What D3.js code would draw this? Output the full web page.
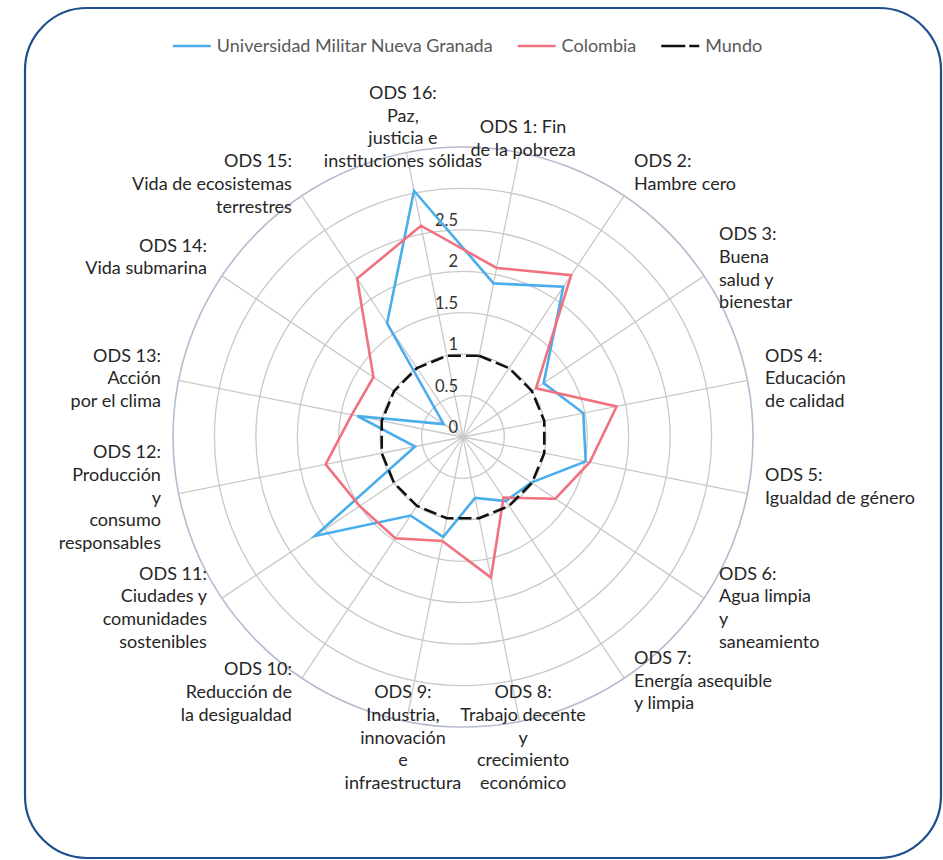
<!DOCTYPE html>
<html><head><meta charset="utf-8">
<script src="https://cdn.jsdelivr.net/npm/d3@7"></script>
<style>body{margin:0;background:#fff}svg{display:block}</style>
</head><body>
<svg id="chart" width="943" height="860"></svg>
<script>
// ---- data ----
const categories = [
  ["ODS 1: Fin", "de la pobreza"],
  ["ODS 2:", "Hambre cero", ""],
  ["ODS 3:", "Buena", "salud y", "bienestar"],
  ["ODS 4:", "Educación", "de calidad"],
  ["ODS 5:", "Igualdad de género", ""],
  ["ODS 6:", "Agua limpia", "y", "saneamiento"],
  ["ODS 7:", "Energía asequible", "y limpia", ""],
  ["ODS 8:", "Trabajo decente", "y", "crecimiento", "económico"],
  ["ODS 9:", "Industria,", "innovación", "e", "infraestructura"],
  ["ODS 10:", "Reducción de", "la desigualdad"],
  ["ODS 11:", "Ciudades y", "comunidades", "sostenibles"],
  ["ODS 12:", "Producción", "y", "consumo", "responsables"],
  ["ODS 13:", "Acción", "por el clima"],
  ["ODS 14:", "Vida submarina", ""],
  ["ODS 15:", "Vida de ecosistemas", "terrestres"],
  ["ODS 16:", "Paz,", "justicia e", "instituciones sólidas", ""]
];
const umng     = [1.89, 2.18, 1.17, 1.48, 1.51, 0.99, 0.93, 0.75, 1.23, 1.14, 2.15, 0.59, 1.30, 0.28, 1.65, 3.03];
const colombia = [2.08, 2.35, 1.06, 1.89, 1.56, 1.34, 0.88, 1.73, 1.28, 1.47, 1.50, 1.69, 1.37, 1.30, 2.30, 2.60];
const mundo    = [1, 1, 1, 1, 1, 1, 1, 1, 1, 1, 1, 1, 1, 1, 1, 1];
const seriesNames = ["Universidad Militar Nueva Granada", "Colombia", "Mundo"];
const tickLabels = [0, 0.5, 1, 1.5, 2, 2.5];
const gridLevels = [0.5, 1, 1.5, 2, 2.5, 3, 3.5];

// ---- layout ----
const W = 943, H = 860;
const cx = 463, cy = 437;
const FONT = "Lato, 'Open Sans', sans-serif";
const svg = d3.select("#chart");
const n = categories.length;
const ang = d3.scaleLinear().domain([0, n]).range([Math.PI / n, 2 * Math.PI + Math.PI / n]);
const r = d3.scaleLinear().domain([0, 3.5]).range([0, 290]);

svg.append("rect").attr("width", W).attr("height", H).attr("fill", "#fff");
svg.append("rect").attr("x", 25).attr("y", 8).attr("width", 916).attr("height", 850)
  .attr("rx", 62).attr("fill", "none").attr("stroke", "#1d4f8d").attr("stroke-width", 2.2);

const g = svg.append("g").attr("transform", `translate(${cx},${cy})`);
const pt = (i, v) => [r(v) * Math.sin(ang(i)), -r(v) * Math.cos(ang(i))];

// grid circles
g.selectAll("circle.grid").data(gridLevels).join("circle")
  .attr("r", d => r(d)).attr("fill", "none")
  .attr("stroke", d => d === 3.5 ? "#b5bbcf" : "#c9c9c9")
  .attr("stroke-width", d => d === 3.5 ? 1.6 : 1.3);
// spokes
g.selectAll("line.spoke").data(d3.range(n)).join("line")
  .attr("x1", 0).attr("y1", 0)
  .attr("x2", i => pt(i, 3.5)[0]).attr("y2", i => pt(i, 3.5)[1])
  .attr("stroke", "#c9c9c9").attr("stroke-width", 1.3);

// tick labels
g.selectAll("text.tick").data(tickLabels).join("text")
  .attr("x", -5).attr("y", d => -r(d) - 8)
  .attr("text-anchor", "end").attr("dominant-baseline", "middle")
  .attr("font-family", FONT).attr("font-size", 16.5).attr("fill", "#333")
  .text(d => d3.format("")(d));

// series
const radial = d3.lineRadial().angle((d, i) => ang(i)).radius(d => r(d)).curve(d3.curveLinearClosed);
const series = [
  {name: seriesNames[0], values: umng, color: "#4badea", dash: null},
  {name: seriesNames[1], values: colombia, color: "#f0727f", dash: null},
  {name: seriesNames[2], values: mundo, color: "#111", dash: "13,5"}
];
g.selectAll("path.series").data(series).join("path")
  .attr("d", d => radial(d.values)).attr("fill", "none")
  .attr("stroke", d => d.color).attr("stroke-width", 2.6)
  .attr("stroke-dasharray", d => d.dash).attr("stroke-linejoin", "miter");

// category labels
const LH = 22.7, LR = 308, FS = 18;
categories.forEach((lines, i) => {
  const a = ang(i), s = Math.sin(a), c = Math.cos(a);
  const x = LR * s, y = -(LR - 2.5) * c + 2.5;
  const anchor = Math.abs(s) < 0.3 ? "middle" : (s > 0 ? "start" : "end");
  const top = y - (lines.length - 1) * LH / 2;
  const t = g.append("text").attr("font-family", FONT).attr("font-size", FS)
    .attr("fill", "#262626").attr("text-anchor", anchor);
  lines.forEach((ln, k) => {
    t.append("tspan").attr("x", x).attr("y", top + k * LH)
      .attr("dominant-baseline", "middle").text(ln);
  });
});

// legend
const lg = svg.append("g");
const ly = 46, lineLen = 38, gapText = 6, gapItem = 25;
let xpos = 0;
series.forEach(s => {
  const it = lg.append("g");
  it.append("line").attr("x1", 0).attr("x2", lineLen).attr("y1", 0).attr("y2", 0)
    .attr("stroke", s.color).attr("stroke-width", 2.6)
    .attr("stroke-dasharray", s.dash ? "24,4,11" : null);
  const tx = it.append("text").attr("x", lineLen + gapText).attr("y", 1)
    .attr("dominant-baseline", "middle").attr("font-family", FONT)
    .attr("font-size", FS).attr("fill", "#595959").text(s.name);
  const w = lineLen + gapText + tx.node().getComputedTextLength();
  it.attr("transform", `translate(${xpos},${ly})`);
  xpos += w + gapItem;
});
const total = xpos - gapItem;
lg.attr("transform", `translate(${467.5 - total / 2},0)`);
</script>
</body></html>
